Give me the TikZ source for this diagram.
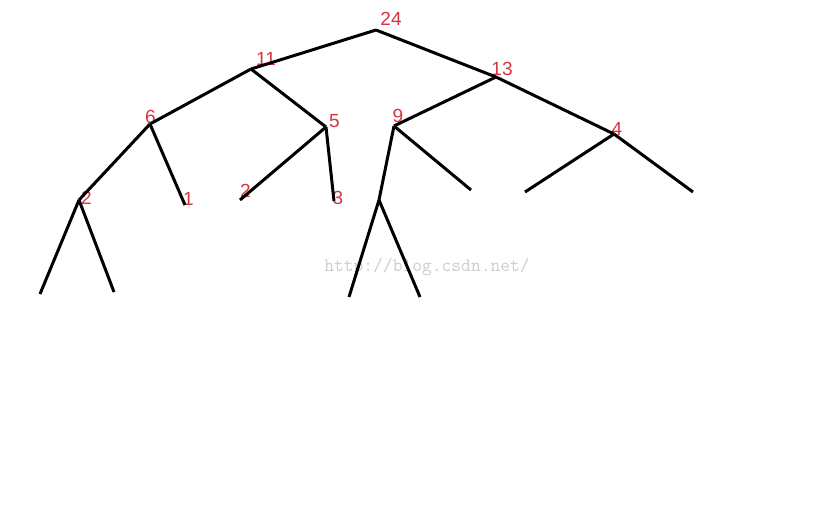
\documentclass[tikz,border=0pt]{standalone}
\usepackage{fontspec}
\setmainfont{Liberation Sans}
\usetikzlibrary{positioning}
\definecolor{weightred}{RGB}{214,52,62}
\tikzset{
  x = 1pt, y = -1pt,
  edge/.style = {line width = 3pt},
  weight/.style = {text = weightred, inner sep = 0pt,
    font = \fontsize{19}{19}\selectfont},
  watermark/.style = {text = black!20, inner sep = 0pt,
    font = \ttfamily\fontsize{19}{19}\selectfont},
}

\begin{document}
\begin{tikzpicture}
  \useasboundingbox (0,0) rectangle (836,514);
  \node [watermark] (wm) at (427,267) {http://blog.csdn.net/};
  % branch points
  \coordinate (r24) at (376,30);
  \coordinate (n11) at (251,69);
  \coordinate (n13) at (496,77);
  \coordinate (n6) at (150,124);
  \coordinate (n5) at (326,127);
  \coordinate (n9) at (394,126);
  \coordinate (n4) at (614,134);
  \coordinate (n2) at (79,200);
  \coordinate (n1) at (185,205);
  \coordinate (n2b) at (240,200);
  \coordinate (n3) at (334,201);
  \coordinate (n9l) at (379,200);
  \coordinate (n9r) at (471,190);
  \coordinate (n4l) at (525,192);
  \coordinate (n4r) at (693,192);
  \coordinate (n2l) at (40,294);
  \coordinate (n2r) at (114,292);
  \coordinate (n9ll) at (349,297);
  \coordinate (n9lr) at (420,297);
  % weights
  \node [weight] (w24) at (391,18.5) {24};
  \node [weight] (w11) at (266,59) {11};
  \node [weight] (w13) at (502,69) {13};
  \node [weight] (w6) at (150.5,117) {6};
  \node [weight] (w5) at (334.5,121.5) {5};
  \node [weight] (w9) at (398,116) {9};
  \node [weight] (w4) at (617,129) {4};
  \node [weight] (w2) at (86.5,198) {2};
  \node [weight] (w1) at (188.5,199) {1};
  \node [weight] (w2b) at (245.5,190.5) {2};
  \node [weight] (w3) at (338,198) {3};
  % edges
  \draw [edge] (r24) -- (n11);
  \draw [edge] (r24) -- (n13);
  \draw [edge] (n11) -- (n6);
  \draw [edge] (n11) -- (n5);
  \draw [edge] (n13) -- (n9);
  \draw [edge] (n13) -- (n4);
  \draw [edge] (n6) -- (n2);
  \draw [edge] (n6) -- (n1);
  \draw [edge] (n5) -- (n2b);
  \draw [edge] (n5) -- (n3);
  \draw [edge] (n9) -- (n9l);
  \draw [edge] (n9) -- (n9r);
  \draw [edge] (n4) -- (n4l);
  \draw [edge] (n4) -- (n4r);
  \draw [edge] (n2) -- (n2l);
  \draw [edge] (n2) -- (n2r);
  \draw [edge] (n9l) -- (n9ll);
  \draw [edge] (n9l) -- (n9lr);
\end{tikzpicture}
\end{document}
